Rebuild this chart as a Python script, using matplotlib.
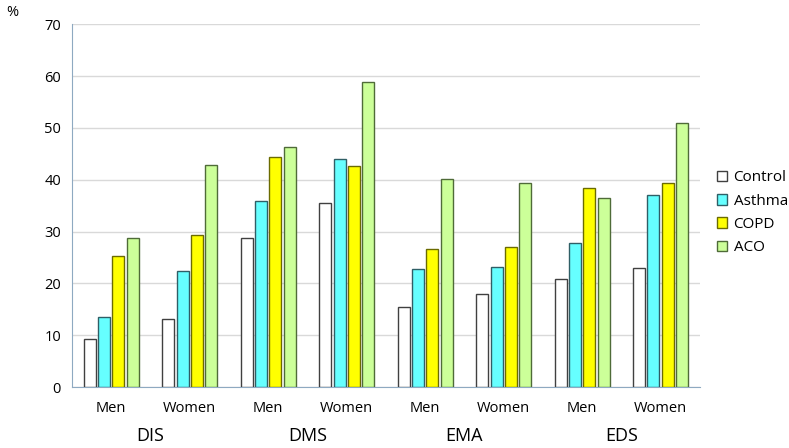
import matplotlib
matplotlib.use("Agg")
import matplotlib.pyplot as plt
import numpy as np

plt.rcParams['font.family'] = ['Open Sans', 'DejaVu Sans']

# donnees
groupes = ["DIS", "DMS", "EMA", "EDS"]
sexes = ["Men", "Women"]
series = ["Control", "Asthma", "COPD", "ACO"]
control = [9.3, 13.2, 28.7, 35.6, 15.4, 17.9, 20.8, 23.0]
asthma = [13.5, 22.3, 35.9, 44.0, 22.7, 23.1, 27.7, 37.1]
copd = [25.3, 29.4, 44.4, 42.6, 26.7, 27.0, 38.4, 39.4]
aco = [28.7, 42.9, 46.4, 58.8, 40.2, 39.4, 36.5, 51.0]

couleurs = ["#FFFFFF", "#66FFFF", "#FFFF00", "#CCFF99"]
bords = ["#404040", "#2F5F66", "#6B6B00", "#4F6B38"]

fig = plt.figure(figsize=(7.89, 4.48), dpi=100)
ax = fig.add_axes([0.0913, 0.136, 0.7957, 0.810])

x = np.arange(len(control))
pas = 0.182
larg = 0.153
for i, vals in enumerate([control, asthma, copd, aco]):
    ax.bar(x + (i - 1.5) * pas, vals, width=larg, color=couleurs[i],
           edgecolor=bords[i], linewidth=1.0, label=series[i], zorder=3)

ax.set_xlim(-0.5, len(control) - 0.5)
ax.set_ylim(0, 70)
ax.set_yticks(range(0, 71, 10))
ax.yaxis.grid(True, color="#D9D9D9", linewidth=1.0, zorder=0)
ax.tick_params(axis='y', length=0, labelsize=10.5, pad=8)
ax.tick_params(axis='x', length=0, labelsize=10.5, pad=10)
ax.set_xticks(x)
ax.set_xticklabels(sexes * len(groupes))
for s in ["top", "right"]:
    ax.spines[s].set_visible(False)
ax.spines["left"].set_color("#8EA9C1")
ax.spines["bottom"].set_color("#8EA9C1")

# noms des groupes
for j, g in enumerate(groupes):
    ax.text(2 * j + 0.5, -0.135, g, transform=ax.get_xaxis_transform(),
            ha="center", va="center", fontsize=13)

fig.text(0.008, 0.972, "%", fontsize=10.5, ha="left", va="center")

ax.legend(loc="center left", bbox_to_anchor=(1.005, 0.48), frameon=False,
          fontsize=11, handlelength=0.7, handleheight=0.7, handletextpad=0.4,
          labelspacing=0.55)

fig.savefig("out.png", dpi=100)
